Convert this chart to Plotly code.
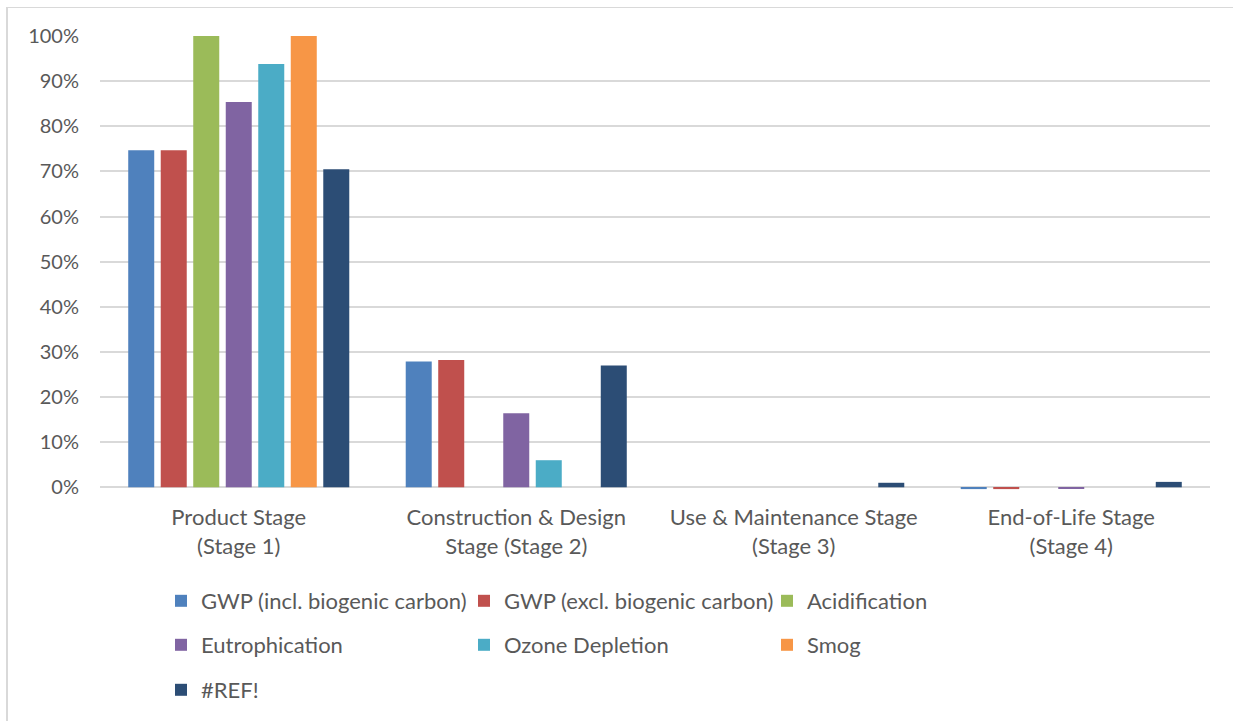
import plotly.graph_objects as go

categories = ["Product Stage<br>(Stage 1)", "Construction & Design<br>Stage (Stage 2)",
              "Use & Maintenance Stage<br>(Stage 3)", "End-of-Life Stage<br>(Stage 4)"]
series_names = ["GWP (incl. biogenic carbon)", "GWP (excl. biogenic carbon)", "Acidification",
                "Eutrophication", "Ozone Depletion", "Smog", "#REF!"]
gwp_incl = [0.747, 0.279, 0.0, -0.004]
gwp_excl = [0.747, 0.282, 0.0, -0.004]
acidification = [1.0, 0.0, 0.0, 0.0]
eutrophication = [0.854, 0.164, 0.0, -0.003]
ozone = [0.938, 0.060, 0.0, 0.0]
smog = [1.0, 0.0, 0.0, 0.0]
ref = [0.705, 0.270, 0.010, 0.012]
colors = ["#4F81BD", "#C0504D", "#9BBB59", "#8064A2", "#4BACC6", "#F79646", "#2C4D75"]
tick_vals = [0, 0.1, 0.2, 0.3, 0.4, 0.5, 0.6, 0.7, 0.8, 0.9, 1.0]
tick_text = ["0%", "10%", "20%", "30%", "40%", "50%", "60%", "70%", "80%", "90%", "100%"]

all_series = [gwp_incl, gwp_excl, acidification, eutrophication, ozone, smog, ref]
legend_ids = ["legend", "legend", "legend", "legend2", "legend2", "legend2", "legend3"]

FONT = "Lato"
GRAY = "#595959"

fig = go.Figure()
for name, vals, c, lg in zip(series_names, all_series, colors, legend_ids):
    fig.add_trace(go.Bar(x=categories, y=vals, name=name, marker=dict(color=c, line=dict(width=0)),
                         legend=lg))

W, H = 1233, 721
ml, mr, mt, mb = 100, 23, 36, 231
pw = W - ml - mr
ph = H - mt - mb

def px_to_paper_x(px):
    return (px - ml) / pw

def px_to_paper_y(py):
    return (H - mb - py) / ph

legend_common = dict(orientation="h", font=dict(family=FONT, size=22, color=GRAY),
                     entrywidth=258, entrywidthmode="pixels", xanchor="left", yanchor="middle",
                     bgcolor="rgba(0,0,0,0)", itemclick=False)

fig.update_layout(
    width=W, height=H,
    margin=dict(l=ml, r=mr, t=mt, b=mb, autoexpand=False),
    paper_bgcolor="white", plot_bgcolor="white",
    barmode="group", bargap=0.18, bargroupgap=0.2,
    font=dict(family=FONT, size=18, color=GRAY),
    xaxis=dict(showgrid=False, showline=False, ticks="", ticklabelstandoff=12,
               tickfont=dict(family=FONT, size=22, color=GRAY)),
    yaxis=dict(range=[-0.006, 1.0], tickvals=tick_vals, ticktext=tick_text,
               showgrid=True, gridcolor="#D9D9D9", gridwidth=1.6,
               zeroline=True, zerolinecolor="#D9D9D9", zerolinewidth=1.6,
               tickfont=dict(family=FONT, size=20, color=GRAY), ticks="", ticklen=0,
               ticklabelstandoff=20),
    legend=dict(**legend_common, x=px_to_paper_x(161), y=px_to_paper_y(601)),
    legend2=dict(**legend_common, x=px_to_paper_x(161), y=px_to_paper_y(645)),
    legend3=dict(**legend_common, x=px_to_paper_x(161), y=px_to_paper_y(690)),
    showlegend=True,
)
# chart-area border (top and left edges visible in the crop)
fig.add_shape(type="line", xref="paper", yref="paper",
              x0=px_to_paper_x(7), x1=px_to_paper_x(1233),
              y0=px_to_paper_y(7.5), y1=px_to_paper_y(7.5),
              line=dict(color="#D9D9D9", width=1))
fig.add_shape(type="line", xref="paper", yref="paper",
              x0=px_to_paper_x(7), x1=px_to_paper_x(7),
              y0=px_to_paper_y(7), y1=px_to_paper_y(721),
              line=dict(color="#D9D9D9", width=2))

fig.write_html("out.html", config={"displayModeBar": False},
               post_script="document.body.style.margin='0';")
